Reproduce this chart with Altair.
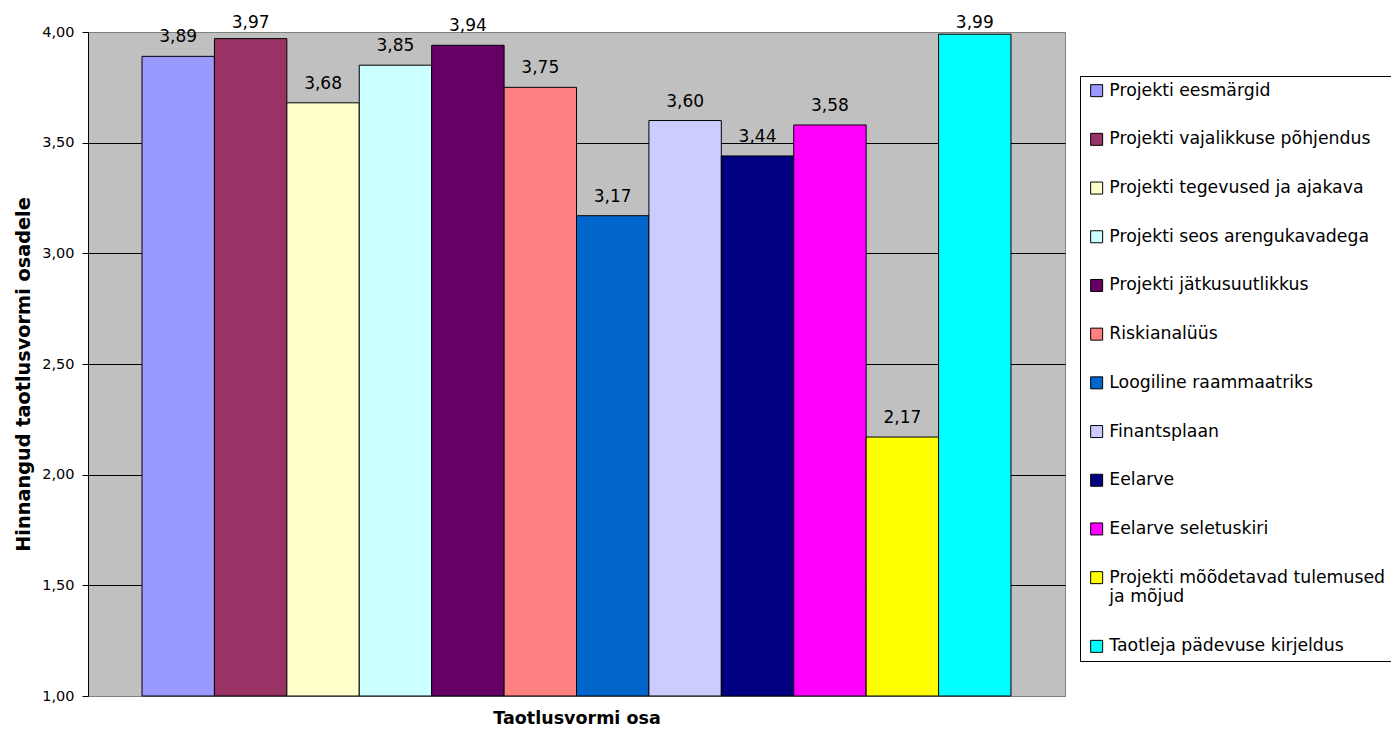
import altair as alt
import pandas as pd

categories = [
    "Projekti eesmärgid",
    "Projekti vajalikkuse põhjendus",
    "Projekti tegevused ja ajakava",
    "Projekti seos arengukavadega",
    "Projekti jätkusuutlikkus",
    "Riskianalüüs",
    "Loogiline raammaatriks",
    "Finantsplaan",
    "Eelarve",
    "Eelarve seletuskiri",
    "Projekti mõõdetavad tulemused ja mõjud",
    "Taotleja pädevuse kirjeldus",
]
values = [3.89, 3.97, 3.68, 3.85, 3.94, 3.75, 3.17, 3.60, 3.44, 3.58, 2.17, 3.99]
colors = [
    "#9999FF", "#993366", "#FFFFCC", "#CCFFFF", "#660066", "#FF8080",
    "#0066CC", "#CCCCFF", "#000080", "#FF00FF", "#FFFF00", "#00FFFF",
]
y_ticks = [1.0, 1.5, 2.0, 2.5, 3.0, 3.5, 4.0]

df = pd.DataFrame({"osa": categories, "hinnang": values})

FONT = "DejaVu Sans"

x_enc = alt.X(
    "osa:N",
    sort=categories,
    scale=alt.Scale(paddingInner=0, paddingOuter=0.746),
    axis=alt.Axis(
        title="Taotlusvormi osa",
        labels=False,
        ticks=False,
        domain=False,
        titleFont=FONT,
        titleFontSize=17.5,
        titleFontWeight="bold",
        titleColor="black",
        titleBaseline="alphabetic",
        titleY=27,
    ),
)

y_enc = alt.Y(
    "hinnang:Q",
    scale=alt.Scale(domain=[1, 4], zero=False, nice=False),
    axis=alt.Axis(
        title="Hinnangud taotlusvormi osadele",
        values=y_ticks,
        labelExpr="replace(format(datum.value, '.2f'), '.', ',')",
        labelFont=FONT,
        labelFontSize=14.5,
        labelColor="black",
        labelPadding=8,
        tickSize=6,
        tickColor="black",
        domainColor="black",
        grid=True,
        gridColor={"condition": {"test": "datum.value == 4 || datum.value == 1", "value": "#808080"}, "value": "black"},
        gridOpacity=1,
        titleFont=FONT,
        titleFontSize=19.3,
        titleFontWeight="bold",
        titleColor="black",
        titleAngle=270,
        titleAlign="center",
        titleBaseline="alphabetic",
        titleX=-59,
        titleY=342,
    ),
)

label_expr = (
    "datum.label == 'Projekti mõõdetavad tulemused ja mõjud' ? "
    "['Projekti mõõdetavad tulemused', 'ja mõjud'] : datum.label"
)

color_enc = alt.Color(
    "osa:N",
    sort=categories,
    scale=alt.Scale(domain=categories, range=colors),
    title=None,
    legend=alt.Legend(
        orient="none",
        legendX=992,
        legendY=44,
        direction="vertical",
        strokeColor="black",
        fillColor="white",
        padding=6,
        rowPadding=30.7,
        symbolType="square",
        symbolSize=144,
        symbolStrokeColor="black",
        symbolStrokeWidth=1,
        symbolOpacity=1,
        symbolOffset=2,
        labelOffset=4,
        labelFont=FONT,
        labelFontSize=17.3,
        labelColor="black",
        labelLimit=500,
        labelExpr=label_expr,
    ),
)

bars = alt.Chart(df).mark_bar(stroke="black", strokeWidth=1, opacity=1).encode(
    x=x_enc,
    y=y_enc,
    y2=alt.datum(1),
    color=color_enc,
)

# Excel keeps value labels inside the chart area: clamp near the top
labels = alt.Chart(df).transform_calculate(
    txt="replace(format(datum.hinnang, '.2f'), '.', ',')",
    ypos="min(datum.hinnang, 3.955)",
).mark_text(
    font=FONT, fontSize=17, color="black", baseline="alphabetic", dy=-14
).encode(
    x=alt.X("osa:N", sort=categories),
    y=alt.Y("ypos:Q"),
    text="txt:N",
)

chart = alt.layer(bars, labels).properties(
    width=977,
    height=664,
    autosize=alt.AutoSizeParams(type="none"),
    padding={"left": 80, "top": 24, "right": 326, "bottom": 30},
    background="white",
).configure_view(
    fill="#C0C0C0",
    stroke="#808080",
    strokeWidth=1,
)

chart.save("out.html", embed_options={"renderer": "svg", "actions": False})
